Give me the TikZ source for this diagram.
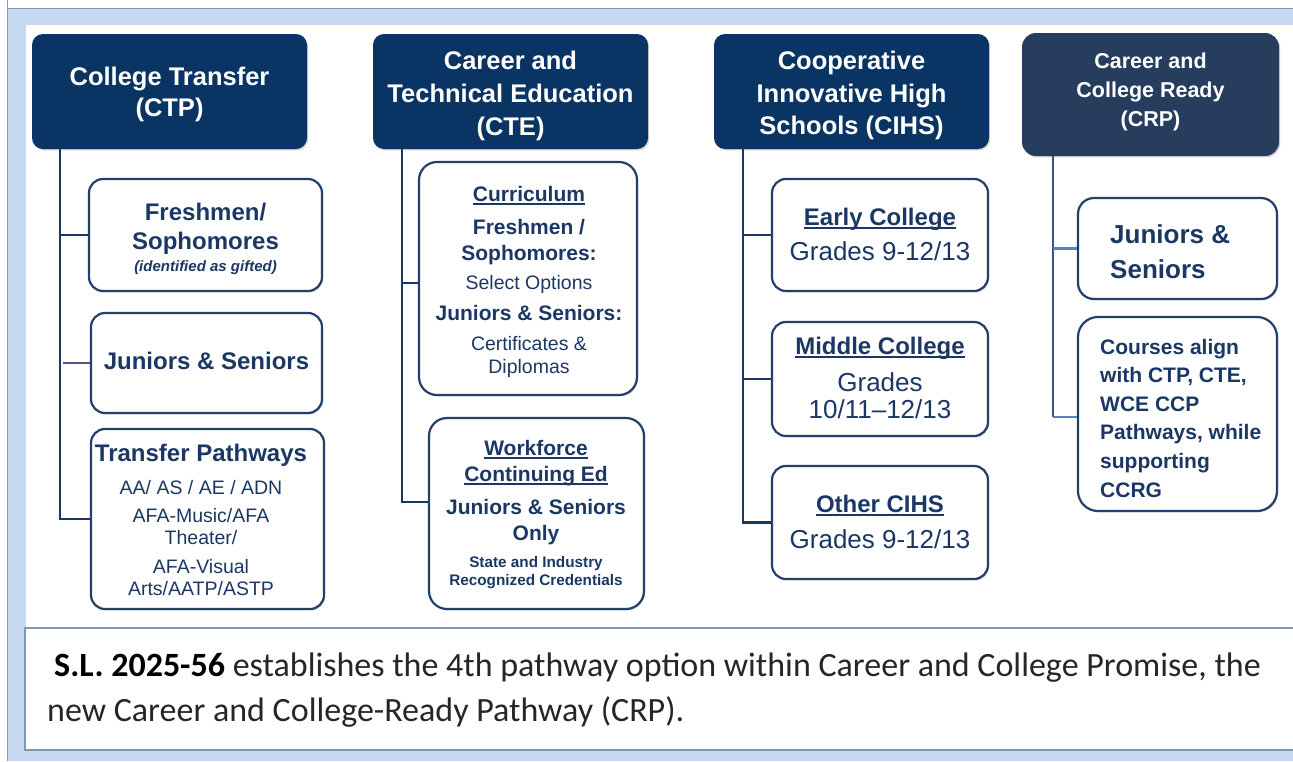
\documentclass[tikz,border=0pt]{standalone}
\usepackage{fontspec}
\setmainfont{Liberation Sans}
\newfontfamily\notefont{Carlito}
\usetikzlibrary{shadows}

\newcommand\fsz[2]{\fontsize{#1pt}{#2pt}\selectfont}
\newcommand\bsz[2]{{\bfseries\fsz{#1}{#1}#2}}
\newsavebox\ulbox
\newcommand\uln[1]{\sbox\ulbox{#1}\rlap{\rule[-3.4pt]{\wd\ulbox}{1.4pt}}\usebox\ulbox}

\definecolor{hdrnavy}{RGB}{10,52,99}
\definecolor{crpnavy}{RGB}{38,61,94}
\definecolor{boxline}{RGB}{35,64,108}
\definecolor{txtnavy}{RGB}{27,56,100}
\definecolor{linknavy}{RGB}{25,55,100}
\definecolor{crpline}{RGB}{52,85,135}
\definecolor{crpstub}{RGB}{84,130,190}
\definecolor{stubpurple}{RGB}{95,80,125}
\definecolor{framefill}{RGB}{198,217,241}
\definecolor{frameedge}{RGB}{125,150,185}
\definecolor{noteedge}{RGB}{130,150,178}

\begin{document}
\begin{tikzpicture}[x=1pt,y=-1pt,
  softshadow/.style={drop shadow={shadow xshift=1.2pt,shadow yshift=-1.4pt,opacity=.28,fill=black!60}},
  hdr/.style={rounded corners=11pt,fill=hdrnavy,draw=none,inner sep=0pt,softshadow},
  hdrtxt/.style={text=white,align=center,inner sep=0pt},
  item/.style={rounded corners=14pt,fill=white,draw=boxline,line width=2.2pt,inner sep=0pt,softshadow},
  itemtxt/.style={text=txtnavy,align=center,inner sep=0pt},
  link/.style={draw=linknavy,line width=2.4pt},
]
\useasboundingbox (0,0) rectangle (1293,761);

% page frame
\fill[white] (0,0) rectangle (1293,761);
\fill[framefill] (8,8) rectangle (1293,761);
\draw[frameedge,line width=1.2pt] (8,8.6) -- (1293,8.6);
\draw[black!40,line width=1pt] (7.5,0) -- (7.5,761);
\fill[white] (26,25) rectangle (1293,627);

% note panel
\fill[white] (25,628) rectangle (1293,750);
\draw[noteedge,line width=1.6pt] (1294,628) -- (25,628) -- (25,750) -- (1294,750);

% pathway headers
\node[hdr,minimum width=275pt,minimum height=115pt] (hCTP) at (169.5,91.5) {};
\node[hdr,minimum width=275pt,minimum height=115pt] (hCTE) at (510.5,91.5) {};
\node[hdr,minimum width=275pt,minimum height=115pt] (hCIHS) at (851.5,91.5) {};
\node[hdr,fill=crpnavy,minimum width=257pt,minimum height=123pt,rounded corners=14pt] (hCRP) at (1150.5,94.5) {};

\node[hdrtxt,font=\bfseries\fsz{25.5}{31}] (tCTP) at (169.5,94.5) {College Transfer\\(CTP)};
\node[hdrtxt,font=\bfseries\fsz{25.5}{33}] (tCTE) at (510.5,96) {Career and\\Technical Education\\(CTE)};
\node[hdrtxt,font=\bfseries\fsz{25.5}{32.5}] (tCIHS) at (851.5,95.5) {Cooperative\\Innovative High\\Schools (CIHS)};
\node[hdrtxt,font=\bfseries\fsz{21.5}{29}] (tCRP) at (1150.5,91.5) {Career and\\College Ready\\(CRP)};

% option boxes
\node[item,minimum width=233pt,minimum height=112pt] (c1a) at (205.5,235) {};
\node[item,minimum width=231pt,minimum height=100pt] (c1b) at (206.5,363) {};
\node[item,minimum width=233pt,minimum height=180pt] (c1c) at (207.5,519) {};

\node[item,minimum width=218pt,minimum height=233pt,rounded corners=18pt] (c2a) at (528,278.5) {};
\node[item,minimum width=215pt,minimum height=191pt,rounded corners=18pt] (c2b) at (536.5,513.5) {};

\node[item,minimum width=216pt,minimum height=112pt] (c3a) at (880,235) {};
\node[item,minimum width=216pt,minimum height=114pt] (c3b) at (880,379) {};
\node[item,minimum width=216pt,minimum height=113pt] (c3c) at (880,522.5) {};

\node[item,minimum width=199pt,minimum height=101pt,rounded corners=16pt] (c4a) at (1177.5,248.5) {};
\node[item,minimum width=199pt,minimum height=194pt,rounded corners=20pt] (c4b) at (1177.5,414) {};

% option texts
\node[itemtxt,font=\bfseries\fsz{24}{29}] (t1a) at (205.5,239) {Freshmen/\\Sophomores\\[-7pt]{\itshape\fsz{15}{15}(identified as gifted)}};
\node[itemtxt,font=\bfseries\fsz{24}{29}] (t1b) at (206.5,361) {Juniors \& Seniors};
\node[itemtxt,font=\fsz{19.5}{22}] (t1c) at (201,520) {\bsz{24}{Transfer Pathways}\\[10.4pt]AA/ AS / AE / ADN\\[6pt]AFA-Music/AFA\\Theater/\\[7pt]AFA-Visual\\Arts/AATP/ASTP};

\node[itemtxt,font=\fsz{19.5}{26}] (t2a) at (529,282) {\bsz{21}{\uln{Curriculum}}\\[7pt]\bsz{21}{Freshmen /}\\\bsz{21}{Sophomores:}\\[3.5pt]Select Options\\[4.5pt]\bsz{21}{Juniors \& Seniors:}\\[4.5pt]Certificates \&\\[-3pt]Diplomas};
\node[itemtxt,font=\bfseries\fsz{21}{26}] (t2b) at (536,514.5) {\uln{Workforce}\\\uln{Continuing Ed}\\[7pt]Juniors \& Seniors\\Only\\[1pt]{\fsz{15.3}{15}State and Industry}\\[-8pt]{\fsz{15.3}{15}Recognized Credentials}};

\node[itemtxt,font=\fsz{26}{35.7}] (t3a) at (880,234.4) {\bsz{24}{\uln{Early College}}\\Grades 9-12/13};
\node[itemtxt,font=\fsz{26}{27}] (t3b) at (880,378) {\bsz{24}{\uln{Middle College}}\\[10.7pt]Grades\\10/11–12/13};
\node[itemtxt,font=\fsz{26}{36.7}] (t3c) at (880,522) {\bsz{24}{\uln{Other CIHS}}\\Grades 9-12/13};

\node[itemtxt,align=left,anchor=west,font=\bfseries\fsz{26}{35}] (t4a) at (1110,251.3) {Juniors \&\\Seniors};
\node[itemtxt,align=left,anchor=west,font=\bfseries\fsz{21}{28.6}] (t4b) at (1100,418) {Courses align\\with CTP, CTE,\\WCE CCP\\Pathways, while\\supporting\\CCRG};

% connectors: trunks below each header, branches to the option boxes
\coordinate (k1) at ([xshift=28pt]hCTP.south west);
\coordinate (k2) at ([xshift=29pt]hCTE.south west);
\coordinate (k3) at ([xshift=29pt]hCIHS.south west);
\coordinate (k4) at ([xshift=31pt]hCRP.south west);
\coordinate (e2a) at ([yshift=-4.5pt]c2a.west);
\coordinate (e2b) at ([yshift=11.5pt]c2b.west);
\coordinate (e4b) at ([yshift=-3pt]c4b.west);

\draw[link] (k1) |- (c1c.west);
\draw[link] (k1 |- c1a.west) -- (c1a.west);
\coordinate (j1) at ([xshift=3pt]k1 |- c1b.west);
\draw[link,draw=stubpurple] (j1) -- (c1b.west);

\draw[link] (k2) |- (e2b);
\draw[link] (k2 |- e2a) -- (e2a);

\draw[link] (k3) |- (c3c.west);
\draw[link] (k3 |- c3a.west) -- (c3a.west);
\draw[link] (k3 |- c3b.west) -- (c3b.west);

\draw[link,draw=crpline] (k4) -- (k4 |- e4b);
\draw[link,draw=crpstub] (k4 |- c4a.west) -- (c4a.west);
\draw[link,draw=crpstub] (k4 |- e4b) -- (e4b);

% note text
\node[anchor=west,align=left,inner sep=0pt,font=\notefont\fsz{34}{45},text=black!85] (note) at (47,690)
  {\hspace*{7pt}\textbf{\color{black}S.L. 2025-56} establishes the 4th pathway option within Career and College Promise, the\\new Career and College-Ready Pathway (CRP).};
\end{tikzpicture}
\end{document}
